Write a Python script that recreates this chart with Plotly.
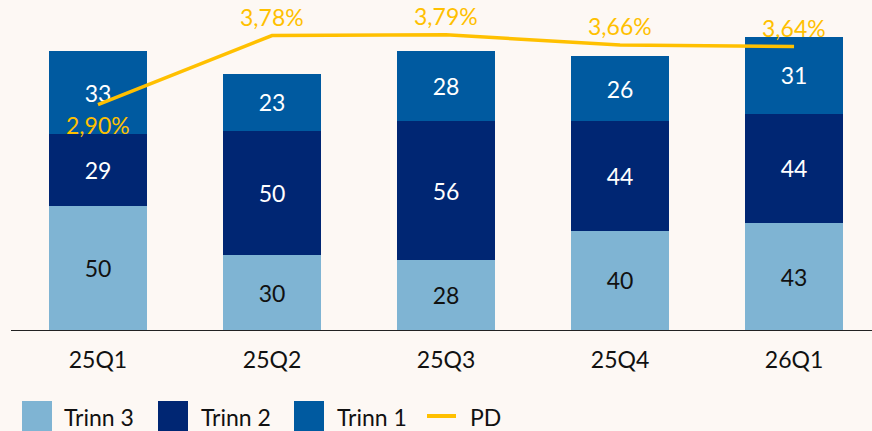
import plotly.graph_objects as go

# Quarterly data
quarters = ["25Q1", "25Q2", "25Q3", "25Q4", "26Q1"]
trinn3 = [50, 30, 28, 40, 43]
trinn2 = [29, 50, 56, 44, 44]
trinn1 = [33, 23, 28, 26, 31]
pd_pct = [2.90, 3.78, 3.79, 3.66, 3.64]
pd_label_below = [True, False, False, False, False]

FONT = "Lato"
FS = 23
BG = "#FDF8F4"
C_T3 = "#7FB4D3"
C_T2 = "#002673"
C_T1 = "#005AA0"
C_PD = "#FFC000"

W, H = 872, 431
ML, MR, MT, MB = 11, 0, 0, 101


def px_x(x):
    return (x - ML) / (W - ML - MR)


def px_y(y):
    return (H - MB - y) / (H - MT - MB)


fig = go.Figure()

for name, vals, color, txtcolor in [
    ("Trinn 3", trinn3, C_T3, "#111111"),
    ("Trinn 2", trinn2, C_T2, "#FFFFFF"),
    ("Trinn 1", trinn1, C_T1, "#FFFFFF"),
]:
    fig.add_trace(go.Bar(
        x=quarters, y=vals, name=name,
        marker=dict(color=color, line=dict(width=0)),
        text=[str(v) for v in vals],
        textposition="inside", insidetextanchor="middle",
        textangle=0, constraintext="none",
        textfont=dict(family=FONT, size=FS, color=txtcolor),
        showlegend=False, hoverinfo="skip",
    ))

fig.add_trace(go.Scatter(
    x=quarters, y=pd_pct, name="PD", yaxis="y2",
    mode="lines", line=dict(color=C_PD, width=3.5),
    showlegend=False, hoverinfo="skip",
))

# PD value labels
for q, v, below in zip(quarters, pd_pct, pd_label_below):
    fig.add_annotation(
        x=q, y=v, xref="x", yref="y2",
        text=f"{v:.2f}%".replace(".", ","),
        showarrow=False, yshift=-20 if below else 19,
        font=dict(family=FONT, size=FS, color=C_PD),
    )

# Legend drawn as shapes + labels
legend_items = [
    ("rect", C_T3, 22, 52, "Trinn 3", 62),
    ("rect", C_T2, 158, 188, "Trinn 2", 199),
    ("rect", C_T1, 294, 324, "Trinn 1", 335),
    ("line", C_PD, 427, 456, "PD", 468),
]
for kind, color, x0, x1, label, tx in legend_items:
    if kind == "rect":
        fig.add_shape(type="rect", xref="paper", yref="paper",
                      x0=px_x(x0), x1=px_x(x1), y0=px_y(401), y1=px_y(434),
                      fillcolor=color, line=dict(width=0), layer="above")
    else:
        fig.add_shape(type="line", xref="paper", yref="paper",
                      x0=px_x(x0), x1=px_x(x1), y0=px_y(416), y1=px_y(416),
                      line=dict(color=color, width=4), layer="above")
    fig.add_annotation(
        x=px_x(tx), y=px_y(416.5), xref="paper", yref="paper",
        xanchor="left", yanchor="middle", showarrow=False,
        text=label, font=dict(family=FONT, size=FS, color="#111111"),
    )

fig.update_layout(
    width=W, height=H,
    margin=dict(l=ML, r=MR, t=MT, b=MB),
    paper_bgcolor=BG, plot_bgcolor=BG,
    barmode="stack", bargap=0.437,
    showlegend=False,
    font=dict(family=FONT, size=FS, color="#111111"),
    xaxis=dict(
        type="category", range=[-0.5, 4.448],
        showline=True, linecolor="#222222", linewidth=1,
        ticks="outside", ticklen=9, tickcolor="rgba(0,0,0,0)",
        tickfont=dict(family=FONT, size=FS, color="#111111"),
        showgrid=False, zeroline=False, fixedrange=True,
    ),
    yaxis=dict(range=[0, 132.7], visible=False, showgrid=False, zeroline=False),
    yaxis2=dict(range=[0.024, 4.234], overlaying="y", side="right",
                visible=False, showgrid=False, zeroline=False),
)

fig.write_html("out.html")
